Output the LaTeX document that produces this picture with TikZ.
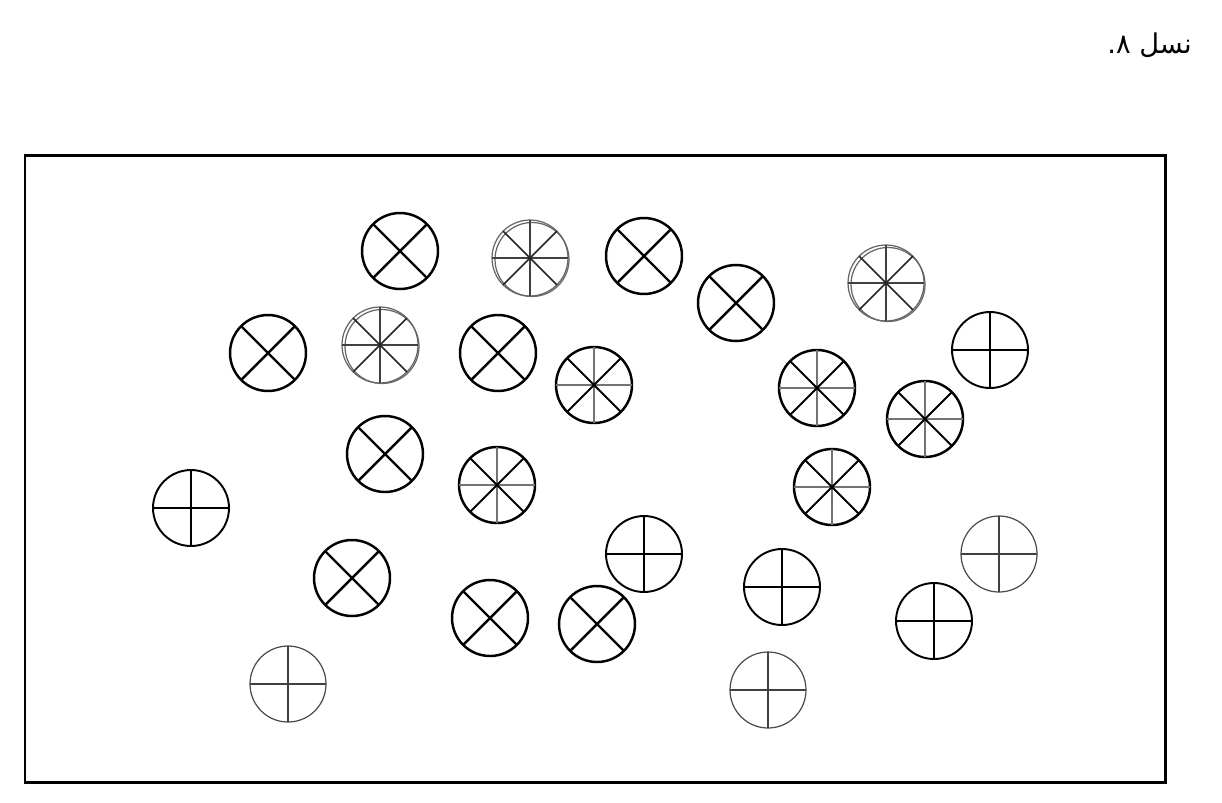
\documentclass[tikz,border=0pt]{standalone}
\usepackage{fontspec}
\newfontfamily\arabicfont[Script=Arabic]{DejaVu Sans}
\TeXXeTstate=1
\begin{document}
\begin{tikzpicture}[x=0.02cm,y=-0.02cm,
  ring/.style={circle,minimum size=1.52cm,inner sep=0pt,outer sep=0pt},
  bline/.style={line width=1.4pt,black},
  mline/.style={line width=1.1pt,black},
  gline/.style={line width=0.8pt,black!55},
  tline/.style={line width=0.7pt,black!75},
  dline/.style={line width=0.9pt,black!85}]
\useasboundingbox (0,0) rectangle (1222,802);
\node[anchor=east,font=\arabicfont\fontsize{15.5}{18}\selectfont] (title) at (1198,45) {\beginR نسل ۸.\endR};
\draw[line width=1.7pt] (25,155) rectangle (1165,782);
% X circles
\foreach \n/\x/\y in {x1/400/251, x2/644/256, x3/736/303, x4/268/353, x5/498/353, x6/385/454, x7/352/578, x8/490/618, x9/597/624}{
  \node[ring,draw,bline] (\n) at (\x,\y) {};
  \draw[bline] (\n.45) -- (\n.225);
  \draw[bline] (\n.135) -- (\n.315);
}
% 8-spoke black circles
\foreach \n/\x/\y in {s1/594/385, s2/817/388, s3/925/419, s4/497/485, s5/832/487}{
  \node[ring,draw,bline] (\n) at (\x,\y) {};
  \draw[gline] (\n.0) -- (\n.180);
  \draw[gline] (\n.90) -- (\n.270);
  \draw[mline] (\n.45) -- (\n.225);
  \draw[mline] (\n.135) -- (\n.315);
}
% 8-spoke double gray circles
\foreach \n/\x/\y in {d1/530/258, d2/886/283, d3/380/345}{
  \node[ring,draw,line width=0.7pt,black!60] (\n) at (\x,\y) {};
  \draw[line width=0.7pt,black!60] (\x+2,\y+1.5) circle[radius=0.74cm];
  \draw[tline] (\n.0) -- (\n.180);
  \draw[tline] (\n.90) -- (\n.270);
  \draw[dline] (\n.45) -- (\n.225);
  \draw[dline] (\n.135) -- (\n.315);
}
% plus black circles
\foreach \n/\x/\y in {p1/990/350, p2/191/508, p3/644/554, p4/782/587, p5/934/621}{
  \node[ring,draw,mline] (\n) at (\x,\y) {};
  \draw[mline] (\n.0) -- (\n.180);
  \draw[mline] (\n.90) -- (\n.270);
}
% plus gray circles
\foreach \n/\x/\y in {g1/999/554, g2/288/684, g3/768/690}{
  \node[ring,draw,line width=0.7pt,black!70] (\n) at (\x,\y) {};
  \draw[tline] (\n.0) -- (\n.180);
  \draw[tline] (\n.90) -- (\n.270);
}
\end{tikzpicture}
\end{document}
